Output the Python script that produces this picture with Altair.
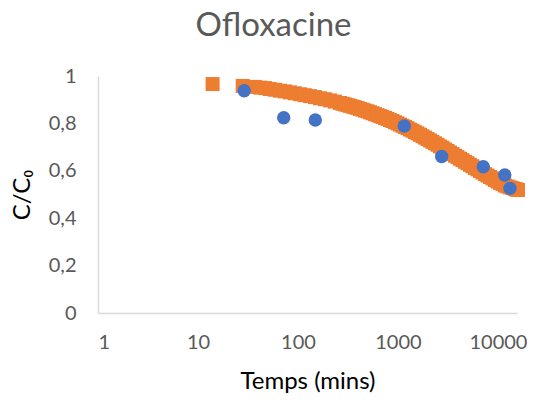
import altair as alt
import pandas as pd

# Measured data (blue circles)
exp_time = [29, 72, 149, 1156, 2735, 7130, 11700, 13180]
exp_value = [0.938, 0.824, 0.814, 0.789, 0.660, 0.617, 0.582, 0.526]

# Model curve (orange squares)
model_time = [14, 28, 37, 42, 47, 52, 59, 66, 74, 83, 93, 105, 117, 132, 148, 166,
              186, 209, 234, 263, 279, 295, 313, 331, 351, 371, 394, 417, 442, 468,
              496, 525, 556, 589, 624, 661, 700, 741, 785, 832, 881, 933, 989, 1047,
              1109, 1175, 1245, 1318, 1396, 1479, 1567, 1660, 1758, 1862, 1972, 2089,
              2213, 2344, 2483, 2630, 2786, 2951, 3126, 3311, 3508, 3715, 3936, 4169,
              4416, 4677, 4955, 5248, 5559, 5888, 6237, 6607, 6998, 7413, 7852, 8318,
              8810, 9333, 9886, 10471, 11092, 11749, 12445, 13183, 13964, 14791,
              15311, 15849]
model_value = [0.966, 0.958, 0.954, 0.951, 0.949, 0.945, 0.942, 0.938, 0.935, 0.931,
               0.927, 0.923, 0.919, 0.915, 0.911, 0.906, 0.902, 0.897, 0.892, 0.886,
               0.883, 0.880, 0.877, 0.874, 0.871, 0.868, 0.865, 0.861, 0.858, 0.854,
               0.851, 0.847, 0.843, 0.839, 0.835, 0.831, 0.827, 0.823, 0.819, 0.814,
               0.810, 0.805, 0.800, 0.795, 0.790, 0.785, 0.780, 0.774, 0.769, 0.763,
               0.758, 0.752, 0.746, 0.740, 0.734, 0.728, 0.722, 0.716, 0.710, 0.703,
               0.697, 0.690, 0.684, 0.677, 0.671, 0.664, 0.658, 0.651, 0.645, 0.638,
               0.632, 0.625, 0.619, 0.612, 0.606, 0.599, 0.593, 0.586, 0.580, 0.574,
               0.568, 0.561, 0.555, 0.549, 0.544, 0.538, 0.534, 0.530, 0.527, 0.523,
               0.521, 0.519]

x_ticks = [1, 10, 100, 1000, 10000]
y_ticks = [0, 0.2, 0.4, 0.6, 0.8, 1.0]

exp_df = pd.DataFrame({"t": exp_time, "c": exp_value})
model_df = pd.DataFrame({"t": model_time, "c": model_value})

FONT = "Lato"
GRAY = "#595959"

x_enc = alt.X("t:Q", scale=alt.Scale(type="log", domain=[1, 15500], nice=False),
              axis=alt.Axis(values=x_ticks, title="Temps (mins)", format="d",
                            ticks=False, grid=False, labelPadding=19,
                            titlePadding=17))
y_enc = alt.Y("c:Q", scale=alt.Scale(domain=[0, 1], nice=False),
              axis=alt.Axis(values=y_ticks, title="C/C₀", format=".1~f",
                            labelExpr="replace(datum.label, '.', ',')",
                            ticks=False, grid=False, labelPadding=22,
                            titlePadding=14))

model = alt.Chart(model_df).mark_square(size=196, color="#ED7D31", opacity=1,
                                        clip=False).encode(x=x_enc, y=y_enc)
exp = alt.Chart(exp_df).mark_circle(size=180, color="#4472C4", opacity=1,
                                    clip=False).encode(x="t:Q", y="c:Q")

chart = alt.layer(model, exp).properties(
    width=419, height=237,
    title=alt.TitleParams("Ofloxacine", fontSize=33, font=FONT, color=GRAY,
                          fontWeight="normal", dx=-34, offset=23),
    autosize=alt.AutoSizeParams(type="none"),
    padding={"left": 90, "top": 68, "right": 10, "bottom": 85},
).configure_view(stroke=None).configure_axis(
    labelFont=FONT, labelFontSize=20, labelColor=GRAY,
    titleFont=FONT, titleFontSize=24, titleColor="#000000", titleFontWeight="normal",
    domainColor="#D9D9D9", domainWidth=1.5,
)

chart.save("out.html", embed_options={"renderer": "svg", "actions": False})
